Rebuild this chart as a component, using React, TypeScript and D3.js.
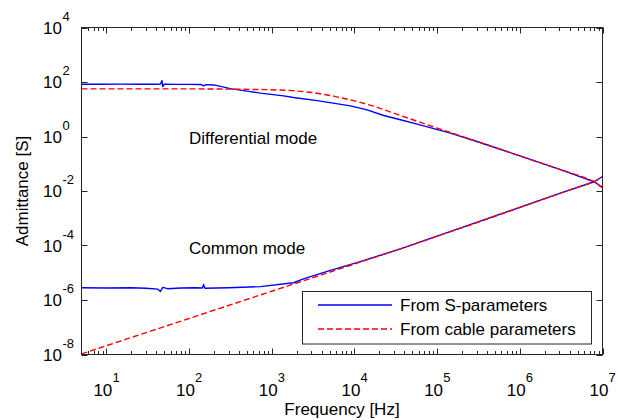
import React from 'react';
import * as d3 from 'd3';

// Differential-mode admittance, measured (S-parameters)
const diffMeasFreq = [5, 8, 15, 25, 40, 45, 47, 48, 50, 70, 100, 140, 150, 160, 200, 316, 550, 730, 1390, 1830, 3540, 8950, 14200, 22600, 36000, 57300, 145000, 316000, 1e6, 3.16e6, 7.94e6, 1e7];
const diffMeasAdm = [83, 82.5, 83.5, 82.8, 83, 84, 112, 68, 83, 82, 81.5, 80.5, 72, 80, 78, 57, 44.5, 39, 31, 26.9, 20.8, 13.3, 9.5, 5.9, 4.1, 2.84, 1.33, 0.63, 0.195, 0.06, 0.0219, 0.0135];

// Differential-mode admittance, computed from cable parameters
const diffCableFreq = [5, 10, 100, 316, 1000, 1780, 3160, 5620, 10000, 17800, 31600, 56200, 100000, 316000, 1e6, 3.16e6, 5.62e6, 7.94e6, 1e7];
const diffCableAdm = [56, 56, 56, 55, 52, 48.4, 40.7, 30.2, 20.4, 12.6, 6.8, 3.7, 2.04, 0.63, 0.195, 0.06, 0.034, 0.0219, 0.0129];

// Common-mode admittance, measured (S-parameters)
const commMeasFreq = [5, 10, 20, 30, 42, 45, 48, 55, 80, 120, 145, 150, 155, 300, 730, 1830, 2420, 4680, 11750, 36000, 100000, 1e6, 3.16e6, 7.94e6, 1e7];
const commMeasAdm = [2.8e-6, 2.75e-6, 2.8e-6, 2.7e-6, 2.5e-6, 2.05e-6, 2.9e-6, 2.6e-6, 2.75e-6, 2.8e-6, 2.75e-6, 3.7e-6, 2.7e-6, 2.8e-6, 3.1e-6, 4.3e-6, 6.0e-6, 1.13e-5, 2.57e-5, 7.5e-5, 2.2e-4, 2.5e-3, 8.5e-3, 0.0219, 0.034];

// Common-mode admittance, computed from cable parameters
const commCableFreq = [5, 10, 100, 1000, 10000, 36000, 100000, 316000, 1e6, 3.16e6, 7.94e6, 1e7];
const commCableAdm = [1.05e-8, 2.1e-8, 2.1e-7, 2.1e-6, 2.1e-5, 7.5e-5, 2.2e-4, 7.2e-4, 2.5e-3, 8.5e-3, 0.0219, 0.0326];

const xTickExps = [1, 2, 3, 4, 5, 6, 7];
const yTickExps = [4, 2, 0, -2, -4, -6, -8];
const minorMultipliers = [2, 3, 4, 5, 6, 7, 8, 9];

const legendLabels = ['From S-parameters', 'From cable parameters'];
const annotations = [
  { text: 'Differential mode', baseline: 143.5 },
  { text: 'Common mode', baseline: 253.5 },
];

const FONT = "'Liberation Sans', Arial, Helvetica, sans-serif";
const BLUE = '#0000ff';
const RED = '#ff0000';
const AXIS = '#262626';

export default function App() {
  const x = d3.scaleLog().domain([5, 1e7]).range([81.5, 602.5]);
  const y = d3.scaleLog().domain([1e-8, 1e4]).range([354.5, 27.5]);
  const [xl, xr] = x.range();
  const [yb, yt] = y.range();

  const line = d3
    .line<[number, number]>()
    .x((d) => x(d[0]))
    .y((d) => y(d[1]));
  const zip = (f: number[], v: number[]) => f.map((fi, i) => [fi, v[i]] as [number, number]);

  const minorTicks: number[] = [];
  for (let e = 0; e <= 6; e++) {
    for (const m of minorMultipliers) {
      const v = m * Math.pow(10, e);
      if (v > 5 && v < 1e7) minorTicks.push(v);
    }
  }

  const majorLen = 6;
  const minorLen = 3.5;

  return (
    <svg
      width={618}
      height={420}
      style={{ position: 'absolute', left: 0, top: 0, background: '#fff' }}
      fontFamily={FONT}
    >
      <rect x={0} y={0} width={618} height={420} fill="#fff" />
      <defs>
        <clipPath id="plotClip">
          <rect x={xl} y={yt} width={xr - xl} height={yb - yt} />
        </clipPath>
      </defs>

      {/* data curves */}
      <g clipPath="url(#plotClip)" fill="none" strokeLinejoin="round">
        <path d={line(zip(diffMeasFreq, diffMeasAdm)) || ''} stroke={BLUE} strokeWidth={1.4} />
        <path d={line(zip(commMeasFreq, commMeasAdm)) || ''} stroke={BLUE} strokeWidth={1.4} />
        <path d={line(zip(diffCableFreq, diffCableAdm)) || ''} stroke={RED} strokeWidth={1.4} strokeDasharray="6,3" />
        <path d={line(zip(commCableFreq, commCableAdm)) || ''} stroke={RED} strokeWidth={1.4} strokeDasharray="6,3" />
      </g>

      {/* axes box */}
      <rect x={xl} y={yt} width={xr - xl} height={yb - yt} fill="none" stroke={AXIS} strokeWidth={1} />

      {/* ticks */}
      <g stroke={AXIS} strokeWidth={1}>
        {xTickExps.map((e) => {
          const px = Math.round(x(Math.pow(10, e))) + 0.5;
          return (
            <g key={'xm' + e}>
              <line x1={px} x2={px} y1={yb} y2={yb - majorLen} />
              <line x1={px} x2={px} y1={yt} y2={yt + majorLen} />
            </g>
          );
        })}
        {minorTicks.map((v) => {
          const px = Math.round(x(v)) + 0.5;
          return (
            <g key={'xn' + v}>
              <line x1={px} x2={px} y1={yb} y2={yb - minorLen} />
              <line x1={px} x2={px} y1={yt} y2={yt + minorLen} />
            </g>
          );
        })}
        {yTickExps.map((e) => {
          const py = Math.round(y(Math.pow(10, e))) + 0.5;
          return (
            <g key={'ym' + e}>
              <line x1={xl} x2={xl + majorLen} y1={py} y2={py} />
              <line x1={xr} x2={xr - majorLen} y1={py} y2={py} />
            </g>
          );
        })}
      </g>

      {/* tick labels */}
      <g fill="#000">
        {xTickExps.map((e) => {
          const px = x(Math.pow(10, e));
          return (
            <g key={'xl' + e}>
              <text x={px - 13} y={395.5} fontSize={17}>10</text>
              <text x={px + 6} y={382} fontSize={13}>{e}</text>
            </g>
          );
        })}
        {yTickExps.map((e) => {
          const py = y(Math.pow(10, e));
          return (
            <g key={'yl' + e}>
              <text x={62} y={py + 6} fontSize={17} textAnchor="end">10</text>
              <text x={62.5} y={py - 7} fontSize={13}>{e}</text>
            </g>
          );
        })}
      </g>

      {/* axis titles */}
      <text x={(xl + xr) / 2} y={415} fontSize={17} textAnchor="middle" fill="#000">
        Frequency [Hz]
      </text>
      <text
        transform={`translate(28, ${(yt + yb) / 2}) rotate(-90)`}
        fontSize={17}
        textAnchor="middle"
        fill="#000"
      >
        Admittance [S]
      </text>

      {/* annotations */}
      {annotations.map((a) => (
        <text key={a.text} x={189} y={a.baseline} fontSize={17} fill="#000">
          {a.text}
        </text>
      ))}

      {/* legend */}
      <g>
        <rect x={302.5} y={291.5} width={289} height={52.5} fill="#fff" stroke={AXIS} strokeWidth={1} />
        <line x1={318} x2={392} y1={305} y2={305} stroke={BLUE} strokeWidth={1.4} />
        <line x1={318} x2={392} y1={329} y2={329} stroke={RED} strokeWidth={1.4} strokeDasharray="6,3" />
        <text x={400} y={311} fontSize={17} fill="#000">{legendLabels[0]}</text>
        <text x={400} y={335} fontSize={17} fill="#000">{legendLabels[1]}</text>
      </g>
    </svg>
  );
}
